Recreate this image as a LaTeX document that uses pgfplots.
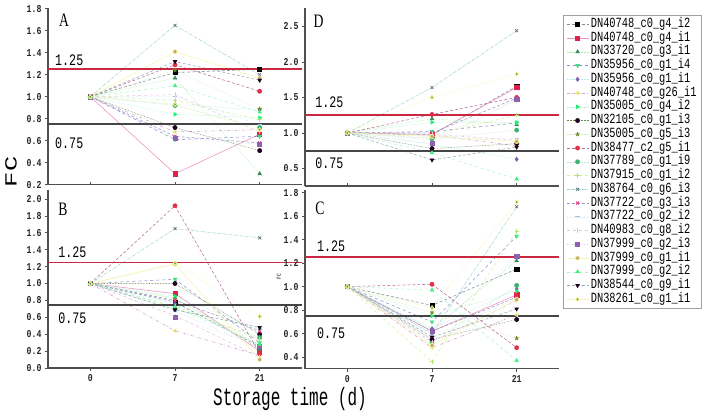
\documentclass[border=0pt]{standalone}
\usepackage{fontspec}
\usepackage{pgfplots}
\usepackage{pgfplotstable}
\pgfplotsset{compat=1.18}
\setmainfont{Liberation Serif}
\newfontfamily\tickfam[FakeStretch=0.78]{Liberation Mono}
\newfontfamily\legfam[FakeStretch=0.74]{Liberation Mono}
\newfontfamily\reffam[FakeStretch=0.73]{Liberation Mono}
\newfontfamily\xlabfam[FakeStretch=0.64]{Liberation Mono}
\newfontfamily\fcfam[FakeStretch=1.5]{Liberation Mono}
\newfontfamily\letfam[FakeStretch=0.72]{Liberation Serif}
\newcommand\tickfont{\tickfam\bfseries\fontsize{10.5}{10.5}\selectfont}
\newcommand\legfont{\legfam\fontsize{14}{14}\selectfont}
\newcommand\reffont{\reffam\fontsize{16}{16}\selectfont}
\newcommand\xlabfont{\xlabfam\fontsize{25}{25}\selectfont}
\newcommand\fcfont{\fcfam\fontsize{17}{17}\selectfont}
\newcommand\letfont{\letfam\fontsize{19}{19}\selectfont}

\definecolor{axcol}{HTML}{505050}
\definecolor{refred}{HTML}{C82840}
\definecolor{refblk}{HTML}{454545}
\definecolor{legcol}{HTML}{A0A0A0}
\definecolor{halo}{HTML}{F4F48A}
\definecolor{L1}{HTML}{8090A0}
\definecolor{L2}{HTML}{EC90C0}\definecolor{M2}{HTML}{E0204A}
\definecolor{L3}{HTML}{A8F0A8}\definecolor{M3}{HTML}{3A8A5A}
\definecolor{L4}{HTML}{9090D0}\definecolor{M4}{HTML}{40E080}
\definecolor{L5}{HTML}{B8E8F4}\definecolor{M5}{HTML}{8060B0}
\definecolor{L6}{HTML}{D0A0C8}\definecolor{M6}{HTML}{C8B070}
\definecolor{L7}{HTML}{B0F4D0}\definecolor{M7}{HTML}{20F070}
\definecolor{L8}{HTML}{6A8A50}\definecolor{M8}{HTML}{200020}
\definecolor{L9}{HTML}{D8E8C0}\definecolor{M9}{HTML}{6B8E23}
\definecolor{L10}{HTML}{B87098}\definecolor{M10}{HTML}{E0304A}
\definecolor{L11}{HTML}{C0E8D0}\definecolor{M11}{HTML}{3CB371}
\definecolor{L12}{HTML}{D0F4A0}\definecolor{M12}{HTML}{B0E070}
\definecolor{L13}{HTML}{A0D8C8}\definecolor{M13}{HTML}{607080}
\definecolor{L14}{HTML}{9898C0}\definecolor{M14}{HTML}{E0408A}
\definecolor{L15}{HTML}{C8DCF0}\definecolor{M15}{HTML}{A0C0E0}
\definecolor{L16}{HTML}{E8C0E8}
\definecolor{L17}{HTML}{D8C8E8}\definecolor{M17}{HTML}{9060B0}
\definecolor{L18}{HTML}{F4F4B0}\definecolor{M18}{HTML}{C0A080}
\definecolor{L19}{HTML}{B0F4D0}\definecolor{M19}{HTML}{40F080}
\definecolor{L20}{HTML}{98A8B8}
\definecolor{L21}{HTML}{F0F0A8}\definecolor{M21}{HTML}{5A9A3A}

\pgfplotsset{
 base/.style={line width=0.55pt, mark size=2.1pt},
 s1/.style={base, color=L1, densely dashed, mark=square*, mark options={solid, fill=black, draw=black}},
 s2/.style={base, color=L2, solid, mark=square*, mark options={solid, fill=M2, draw=M2}},
 s3/.style={base, color=L3, densely dotted, mark=triangle*, mark options={solid, fill=M3, draw=M3}},
 s4/.style={base, color=L4, dashed, mark=triangle*, mark options={solid, rotate=180, fill=M4, draw=M4}},
 s5/.style={base, color=L5, densely dotted, mark=diamond*, mark options={solid, fill=M5, draw=M5}},
 s6/.style={base, color=L6, dashdotted, mark=triangle*, mark options={solid, rotate=90, fill=M6, draw=halo, line width=0.8pt}},
 s7/.style={base, color=L7, densely dotted, mark=triangle*, mark options={solid, rotate=-90, fill=M7, draw=M7}},
 s8/.style={base, color=L8, densely dotted, mark=*, mark options={solid, fill=M8, draw=M8}},
 s9/.style={base, color=L9, densely dotted, mark=star, mark options={solid, draw=M9, line width=0.9pt}},
 s10/.style={base, color=L10, densely dashed, mark=*, mark options={solid, fill=M10, draw=M10}},
 s11/.style={base, color=L11, densely dotted, mark=*, mark options={solid, fill=M11, draw=M11}},
 s12/.style={base, color=L12, dashed, mark=+, mark options={solid, draw=M12, line width=0.9pt}},
 s13/.style={base, color=L13, densely dashdotted, mark=x, mark options={solid, draw=M13, line width=0.7pt}},
 s14/.style={base, color=L14, densely dashed, mark=x, mark options={solid, draw=M14, line width=0.9pt}},
 s15/.style={base, color=L15, dotted, mark=-, mark options={solid, draw=M15, line width=0.9pt}},
 s16/.style={base, color=L16, dashed, mark=|, mark options={solid, draw=L16, line width=0.9pt}},
 s17/.style={base, color=L17, dotted, mark=square*, mark options={solid, fill=M17, draw=M17}},
 s18/.style={base, color=L18, solid, mark=*, mark options={solid, fill=M18, draw=halo, line width=0.8pt}},
 s19/.style={base, color=L19, dashed, mark=triangle*, mark options={solid, fill=M19, draw=M19}},
 s20/.style={base, color=L20, densely dashed, mark=triangle*, mark options={solid, rotate=180, fill=M8, draw=M8}},
 s21/.style={base, color=L21, densely dotted, mark=diamond*, mark options={solid, fill=M21, draw=halo, line width=0.8pt}},
 common/.style={scale only axis, width=254pt, xmin=-0.5, xmax=2.5, xtick={0,1,2}, clip=false,
   axis x line*=bottom, axis y line*=left,
   axis line style={-, draw=axcol, line width=1.2pt},
   tick style={draw=axcol, line width=0.8pt}, major tick length=3pt, tick align=outside,
   ticklabel style={font=\tickfont, text=black!85},
   /pgf/number format/assume math mode=true,
   y tick label style={/pgf/number format/fixed, /pgf/number format/fixed zerofill, /pgf/number format/precision=1},
   anchor=south west},
 topx/.style={xticklabels={}, every x tick/.append style={yshift=3pt}},
}
\newcommand\reflines{%
  \addplot[forget plot, no marks, solid, refred, line width=1.6pt] coordinates {(-0.5,1.25) (2.5,1.25)};
  \addplot[forget plot, no marks, solid, refblk, line width=2pt] coordinates {(-0.5,0.75) (2.5,0.75)};}

\pgfplotstableread{
x s1 s2 s3 s4 s5 s6 s7 s8 s9 s10 s11 s12 s13 s14 s15 s16 s17 s18 s19 s20 s21
0 1 1 1 1 1 1 1 1 1 1 1 1 1 1 1 1 1 1 1 1 1
1 1.22 0.30 1.17 0.61 0.93 0.68 0.84 0.72 1.24 1.29 0.92 0.97 1.65 0.64 1.00 1.02 0.62 1.41 1.10 1.32 0.93
2 1.25 0.66 0.30 0.64 0.88 0.70 0.81 0.51 0.89 1.05 0.72 0.79 1.20 0.58 0.75 0.68 0.57 1.17 0.86 1.15 0.70
}\tabA
\pgfplotstableread{
x s1 s2 s3 s4 s5 s6 s7 s8 s9 s10 s11 s12 s13 s14 s15 s16 s17 s18 s19 s20 s21
0 1 1 1 1 1 1 1 1 1 1 1 1 1 1 1 1 1 1 1 1 1
1 0.78 0.88 0.83 1.05 0.76 0.44 0.85 1.00 0.82 1.92 0.70 0.73 1.65 0.80 0.67 0.62 0.60 1.23 0.72 0.69 1.24
2 0.25 0.20 0.22 0.30 0.27 0.15 0.46 0.40 0.27 0.17 0.36 0.34 1.54 0.44 0.24 0.13 0.26 0.10 0.28 0.48 0.61
}\tabB
\pgfplotstableread{
x s1 s2 s3 s4 s5 s6 s7 s8 s9 s10 s11 s12 s13 s14 s15 s16 s17 s18 s19 s20 s21
0 1 1 1 1 1 1 1 1 1 1 1 1 1 1 1 1 1 1 1 1 1
1 0.97 0.98 1.20 1.02 0.84 0.97 1.15 0.78 0.90 1.26 0.92 0.97 1.64 1.00 0.93 0.98 0.85 0.95 0.72 0.62 1.50
2 1.66 1.64 1.12 1.14 0.63 0.82 1.15 0.85 1.46 1.50 1.04 1.25 2.44 1.49 0.92 0.90 1.48 0.88 0.35 0.80 1.83
}\tabD
\pgfplotstableread{
x s1 s2 s3 s4 s5 s6 s7 s8 s9 s10 s11 s12 s13 s14 s15 s16 s17 s18 s19 s20 s21
0 1 1 1 1 1 1 1 1 1 1 1 1 1 1 1 1 1 1 1 1 1
1 0.84 0.62 0.64 0.70 0.64 0.48 0.75 0.55 0.78 1.02 0.52 0.36 0.60 0.62 0.58 0.53 0.62 0.50 0.97 0.57 0.82
2 1.15 0.93 1.22 1.43 0.98 0.76 0.96 0.72 0.56 0.48 1.01 1.47 1.68 0.91 0.90 0.88 1.26 0.89 0.37 0.81 1.72
}\tabC

\begin{document}
\begin{tikzpicture}
\path[use as bounding box] (0pt,0pt) rectangle (708pt,414pt);

% Panel A
\begin{axis}[common, topx, at={(48pt,229.3pt)}, height=177pt, ymin=0.2, ymax=1.81,
  ytick={0.2,0.4,0.6,0.8,1.0,1.2,1.4,1.6,1.8}]
\pgfplotsinvokeforeach{1,...,21}{\addplot[s#1] table[x=x, y=s#1] {\tabA};}
\reflines
\node[font=\reffont, anchor=south west, inner sep=0pt] at (axis cs:-0.417,1.25) [yshift=3pt] {1.25};
\node[font=\reffont, anchor=north west, inner sep=0pt] at (axis cs:-0.417,0.75) [yshift=-13pt] {0.75};
\node[font=\letfont, anchor=north west, inner sep=0pt] at (axis cs:-0.37,1.755) {A};
\end{axis}

% Panel B
\begin{axis}[common, at={(48pt,46pt)}, height=178pt, ymin=0, ymax=2.107,
  ytick={0,0.2,0.4,0.6,0.8,1.0,1.2,1.4,1.6,1.8,2.0}, xticklabels={0,7,21}]
\pgfplotsinvokeforeach{1,...,21}{\addplot[s#1] table[x=x, y=s#1] {\tabB};}
\reflines
\node[font=\reffont, anchor=south west, inner sep=0pt] at (axis cs:-0.38,1.25) [yshift=5pt] {1.25};
\node[font=\reffont, anchor=north west, inner sep=0pt] at (axis cs:-0.38,0.75) [yshift=-8pt] {0.75};
\node[font=\letfont, anchor=north west, inner sep=0pt] at (axis cs:-0.38,1.96) {B};
\end{axis}

% Panel D
\begin{axis}[common, topx, at={(305pt,228pt)}, height=178pt, ymin=0.253, ymax=2.76,
  ytick={0.5,1.0,1.5,2.0,2.5},
  legend style={at={(1.0157,0.9607)}, anchor=north west, draw=legcol, line width=0.6pt,
    fill=white, font=\legfont, cells={anchor=west}, inner xsep=3pt, inner ysep=3.5pt,
    row sep=2.75pt, nodes={inner xsep=2pt, inner ysep=0pt, text height=8.5pt, text depth=2.5pt}},
  legend image code/.code={\draw[mark repeat=2,mark phase=2,#1] plot coordinates {(0pt,0pt) (11pt,0pt) (22pt,0pt)};}]
\pgfplotsinvokeforeach{1,...,21}{\addplot[s#1] table[x=x, y=s#1] {\tabD};}
\addlegendimage{empty legend}
\reflines
\node[font=\reffont, anchor=south west, inner sep=0pt] at (axis cs:-0.38,1.25) [yshift=7pt] {1.25};
\node[font=\reffont, anchor=north west, inner sep=0pt] at (axis cs:-0.38,0.75) [yshift=-7pt] {0.75};
\node[font=\letfont, anchor=north west, inner sep=0pt] at (axis cs:-0.4,2.66) {D};
\legend{DN40748\_c0\_g4\_i2, DN40748\_c0\_g4\_i1, DN33720\_c0\_g3\_i1, DN35956\_c0\_g1\_i4,
 DN35956\_c0\_g1\_i1, DN40748\_c0\_g26\_i1, DN35005\_c0\_g4\_i2, DN32105\_c0\_g1\_i3,
 DN35005\_c0\_g5\_i3, DN38477\_c2\_g5\_i1, DN37789\_c0\_g1\_i9, DN37915\_c0\_g1\_i2,
 DN38764\_c0\_g6\_i3, DN37722\_c0\_g3\_i3, DN37722\_c0\_g2\_i2, DN40983\_c0\_g8\_i2,
 DN37999\_c0\_g2\_i3, DN37999\_c0\_g1\_i1, DN37999\_c0\_g2\_i2, DN38544\_c0\_g9\_i1,
 DN38261\_c0\_g1\_i1, {}}
\end{axis}

% Panel C
\begin{axis}[common, at={(305pt,45.4pt)}, height=179pt, ymin=0.302, ymax=1.826,
  ytick={0.4,0.6,0.8,1.0,1.2,1.4,1.6,1.8}, xticklabels={0,7,21}]
\pgfplotsinvokeforeach{1,...,21}{\addplot[s#1] table[x=x, y=s#1] {\tabC};}
\reflines
\node[font=\reffont, anchor=south west, inner sep=0pt] at (axis cs:-0.36,1.25) [yshift=5pt] {1.25};
\node[font=\reffont, anchor=north west, inner sep=0pt] at (axis cs:-0.36,0.75) [yshift=-12pt] {0.75};
\node[font=\letfont, anchor=north west, inner sep=0pt] at (axis cs:-0.38,1.72) {C};
\end{axis}

\node[font=\fcfont, rotate=90] at (11pt,242pt) {FC};
\node[font=\tickfam\fontsize{6}{6}\selectfont, rotate=90] at (279pt,137pt) {FC};
\node[font=\xlabfont, anchor=base] at (290pt,8pt) {Storage time (d)};
\end{tikzpicture}
\end{document}
